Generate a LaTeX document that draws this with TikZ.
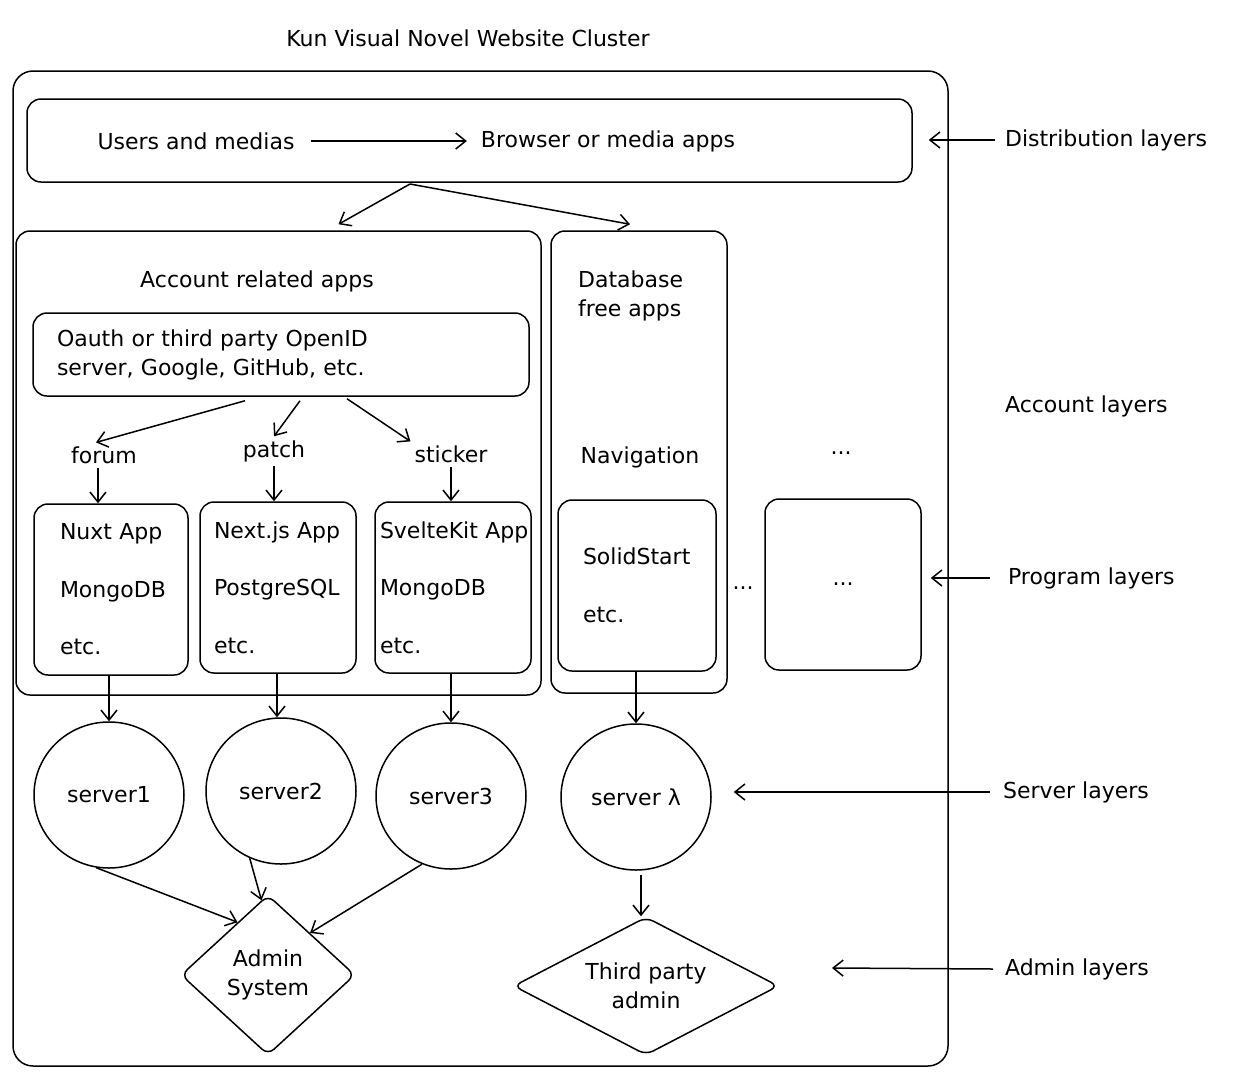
\documentclass[tikz,border=0pt]{standalone}
\usepackage{fontspec}
\setmainfont{DejaVu Sans}
\usetikzlibrary{arrows.meta,shapes.geometric}

\begin{document}
\begin{tikzpicture}[x=1pt, y=-1pt, line width=1.5pt,
		every node/.style={font=\fontsize{22}{26}\selectfont},
		box/.style={draw, rounded corners=14pt, inner sep=0pt},
		appbox/.style={box, align=left, minimum height=171pt, font=\fontsize{22}{57.5}\selectfont},
		server/.style={draw, ellipse, minimum width=150pt, minimum height=146pt, inner sep=0pt},
		admin/.style={draw, diamond, rounded corners=8pt, inner sep=0pt, align=center, font=\fontsize{22}{29}\selectfont},
		layer/.style={anchor=west},
		flow/.style={-{Straight Barb[length=10pt,width=16pt]}},
	]
	\useasboundingbox (0,0) rectangle (1235,1080);

	% frame and top row
	\node (title) at (468,38) {Kun Visual Novel Website Cluster};
	\node[box, rounded corners=20pt, minimum width=935pt, minimum height=995pt] (cluster) at (480.5,568.5) {};
	\node[box, minimum width=885pt, minimum height=83pt] (dist) at (469.5,140.5) {};
	\node (users) 	at (196,141) {Users and medias};
	\node (browser) at (608,141) {Browser or media apps};

	% account related apps
	\node[box, minimum width=525pt, minimum height=464pt] (acct) at (278.5,463) {};
	\node (acctlbl) at (257,281) {Account related apps};
	\node[box, align=left, text width=448pt, inner xsep=24pt, minimum height=83pt, font=\fontsize{22}{29}\selectfont] (oauth) at (281,354.5)
		{Oauth or third party OpenID\\server, Google, GitHub, etc.};
	\node (forum) 	at (104,455) {forum};
	\node (patch) 	at (274,451) {patch};
	\node (sticker) at (451,454) {sticker};
	\node[appbox, text width=102pt, inner xsep=26pt] (nuxt) 	at (111,589.5) {Nuxt~App\\MongoDB\\etc.};
	\node[appbox, text width=128pt, inner xsep=14pt] (next) 	at (278,587.5) {Next.js~App\\PostgreSQL\\etc.};
	\node[appbox, text width=146pt, inner xsep=5pt] (svelte) 	at (453,587.5) {SvelteKit~App\\MongoDB\\etc.};

	% database free apps
	\node[box, minimum width=176pt, minimum height=462pt] (dbfree) at (639,462) {};
	\node[anchor=west, align=left, font=\fontsize{22}{29}\selectfont] (dblbl) at (574,296) {Database\\free apps};
	\node (nav) at (640,457) {Navigation};
	\node[appbox, text width=108pt, inner xsep=25pt] (solid) at (637,585.5) {SolidStart\\etc.};
	\node (dots1) at (743,588) {...};
	\node (dots2) at (841,453) {...};
	\node[box, minimum width=156pt, minimum height=171pt] (more) at (843,584.5) {...};

	% servers and admins
	\node[server] (server1) at (109,795) {server1};
	\node[server] (server2) at (281,791) {server2};
	\node[server] (server3) at (451,796) {server3};
	\node[server] (serverl) at (636,797) {server λ};
	\node[admin, minimum width=174pt, minimum height=160pt] (adminsys) at (268,975) {Admin\\System};
	\node[admin, aspect=1.9, minimum width=265pt, minimum height=138pt] (third) at (646,986) {Third party\\admin};

	% layer names
	\node[layer] (distlyr) 	at (1001,140) {Distribution layers};
	\node[layer] (acctlyr) 	at (1001,406) {Account layers};
	\node[layer] (proglyr) 	at (1004,578) {Program layers};
	\node[layer] (servlyr) 	at (999,792) {Server layers};
	\node[layer] (admlyr) 	at (1001,969) {Admin layers};
	\coordinate (split) at (410,184);
	\coordinate (admtip) at (832,968);

	\draw[flow] ([xshift=12pt]users.east) -- ([xshift=-10pt]browser.west);
	\draw[flow] (split) -- ([xshift=60pt,yshift=6pt]acct.north);
	\draw[flow] (split) -- ([xshift=-9pt,yshift=6pt]dbfree.north);
	\draw[flow] ([xshift=-36pt,yshift=-4pt]oauth.south) -- ([xshift=-8pt]forum.north);
	\draw[flow] ([xshift=19pt,yshift=-4pt]oauth.south) -- (patch.north);
	\draw[flow] ([xshift=66pt,yshift=-2pt]oauth.south) -- (sticker.north west);
	\draw[flow] ([xshift=-6pt]forum.south) -- ([xshift=-6pt]forum.south |- nuxt.north);
	\draw[flow] (patch.south) -- (patch.south |- next.north);
	\draw[flow] (sticker.south) -- (sticker.south |- svelte.north);
	\draw[flow] (server1.north |- nuxt.south) -- (server1.north);
	\draw[flow] ([xshift=-4pt]server2.north |- next.south) -- ([xshift=-4pt]server2.north);
	\draw[flow] (server3.north |- svelte.south) -- (server3.north);
	\draw[flow] (serverl.north |- solid.south) -- (serverl.north);
	\draw[flow] (server1.260) -- (adminsys.120);
	\draw[flow] (server2.245) -- (adminsys.95);
	\draw[flow] (server3.247) -- (adminsys.45);
	\draw[flow] ([xshift=5pt,yshift=-4pt]serverl.south) -- ([xshift=5pt]serverl.south |- third.north);

	\draw[flow] ([xshift=-6pt]distlyr.west) -- ([xshift=16pt]distlyr.west -| dist.east);
	\draw[flow] ([xshift=-14pt]proglyr.west) -- ([xshift=9pt]proglyr.west -| more.east);
	\draw[flow] ([xshift=-9pt]servlyr.west) -- ([xshift=22pt]servlyr.west -| serverl.east);
	\draw[flow] ([xshift=-8pt]admlyr.west) -- (admtip);
\end{tikzpicture}
\end{document}
